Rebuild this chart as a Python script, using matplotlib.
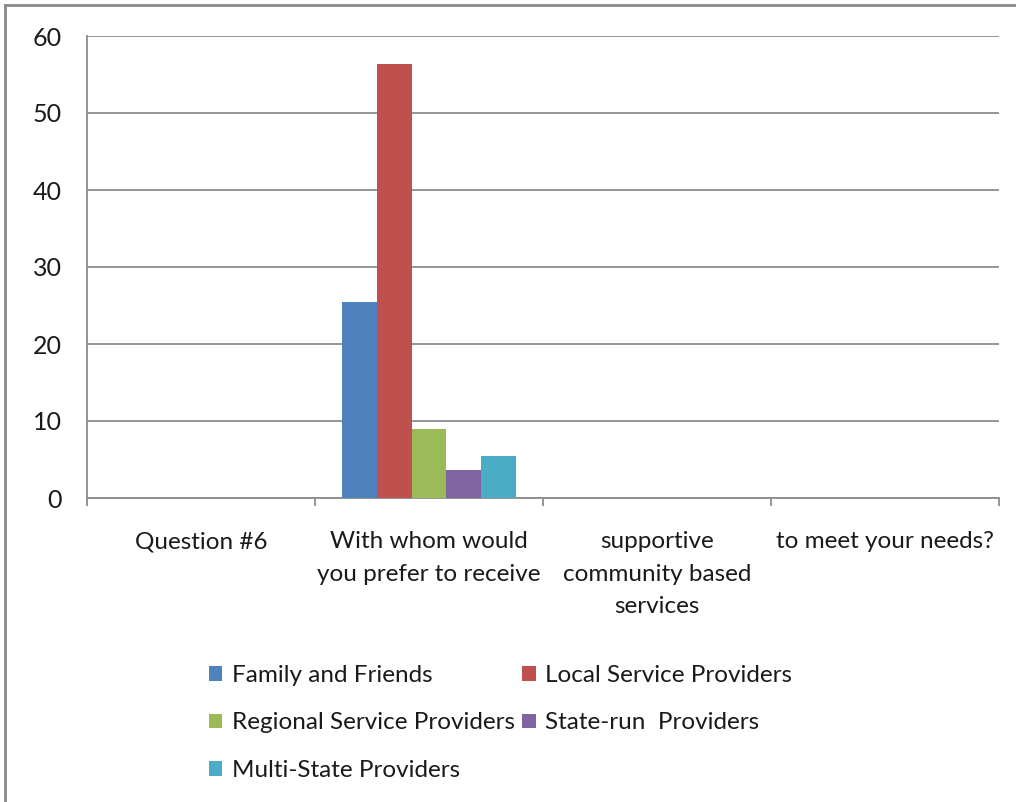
import matplotlib
matplotlib.use("Agg")
import matplotlib.pyplot as plt
from matplotlib.lines import Line2D
import numpy as np

plt.rcParams['font.family'] = ['Lato', 'DejaVu Sans']

categories = ["Question #6", "With whom would\nyou prefer to receive",
              "supportive\ncommunity based\nservices", "to meet your needs?"]
series_names = ["Family and Friends", "Local Service Providers",
                "Regional Service Providers", "State-run  Providers",
                "Multi-State Providers"]
family_friends = [0, 25.4, 0, 0]
local_providers = [0, 56.4, 0, 0]
regional_providers = [0, 9.0, 0, 0]
state_run = [0, 3.6, 0, 0]
multi_state = [0, 5.5, 0, 0]
y_ticks = [0, 10, 20, 30, 40, 50, 60]

colors = ["#4F81BD", "#C0504D", "#9BBB59", "#8064A2", "#4BACC6"]
series_values = [family_friends, local_providers, regional_providers,
                 state_run, multi_state]

W, H, DPI = 1016, 802, 100
fig = plt.figure(figsize=(W / DPI, H / DPI), dpi=DPI)
ax = fig.add_axes([87 / W, (H - 498) / H, 912 / W, 462 / H])

grid_col = "#8C8C8C"
text_col = "#1a1a1a"
fs = 17.5

x = np.arange(len(categories))
bar_w = 0.1535
handles = []
for i, (vals, col, name) in enumerate(zip(series_values, colors, series_names)):
    b = ax.bar(x + (i - 2) * bar_w, vals, width=bar_w, color=col,
               label=name, zorder=3, linewidth=0)
    handles.append(b)

ax.set_xlim(-0.5, len(categories) - 0.5)
ax.set_ylim(0, 60)
ax.set_yticks(y_ticks)
ax.set_yticklabels([str(v) for v in y_ticks])
ax.yaxis.grid(True, color=grid_col, linewidth=1.3, zorder=0)
ax.set_axisbelow(True)

ax.set_xticks(x)
ax.set_xticklabels(categories, linespacing=1.68)
ax.set_xticks(np.arange(-0.5, len(categories)), minor=True)
ax.tick_params(axis='x', which='major', length=0, pad=24, labelsize=fs,
               labelcolor=text_col)
ax.tick_params(axis='x', which='minor', length=6, width=1.3, color=grid_col,
               direction='out')
ax.tick_params(axis='y', length=0, pad=18, labelsize=18, labelcolor=text_col)

for s in ("top", "right"):
    ax.spines[s].set_visible(False)
for s in ("left", "bottom"):
    ax.spines[s].set_color(grid_col)
    ax.spines[s].set_linewidth(1.3)

# legend laid out row by row across two columns
order = [0, 2, 4, 1, 3]
leg = fig.legend([handles[k] for k in order], [series_names[k] for k in order],
                 ncol=2, loc="upper left",
                 bbox_to_anchor=(209 / W, 1 - 665 / H), frameon=False,
                 fontsize=fs, handlelength=0.55, handleheight=0.55,
                 handletextpad=0.4, columnspacing=0.3, labelspacing=1.09,
                 borderpad=0, borderaxespad=0)
for t in leg.get_texts():
    t.set_color(text_col)

# outer chart frame
fig.add_artist(Line2D([5 / W, 5 / W], [0, 1 - 5 / H], color="#8A8A8A",
                      linewidth=2, transform=fig.transFigure))
fig.add_artist(Line2D([5 / W, 1], [1 - 5 / H, 1 - 5 / H], color="#8A8A8A",
                      linewidth=2, transform=fig.transFigure))

fig.savefig("out.png", dpi=DPI)
